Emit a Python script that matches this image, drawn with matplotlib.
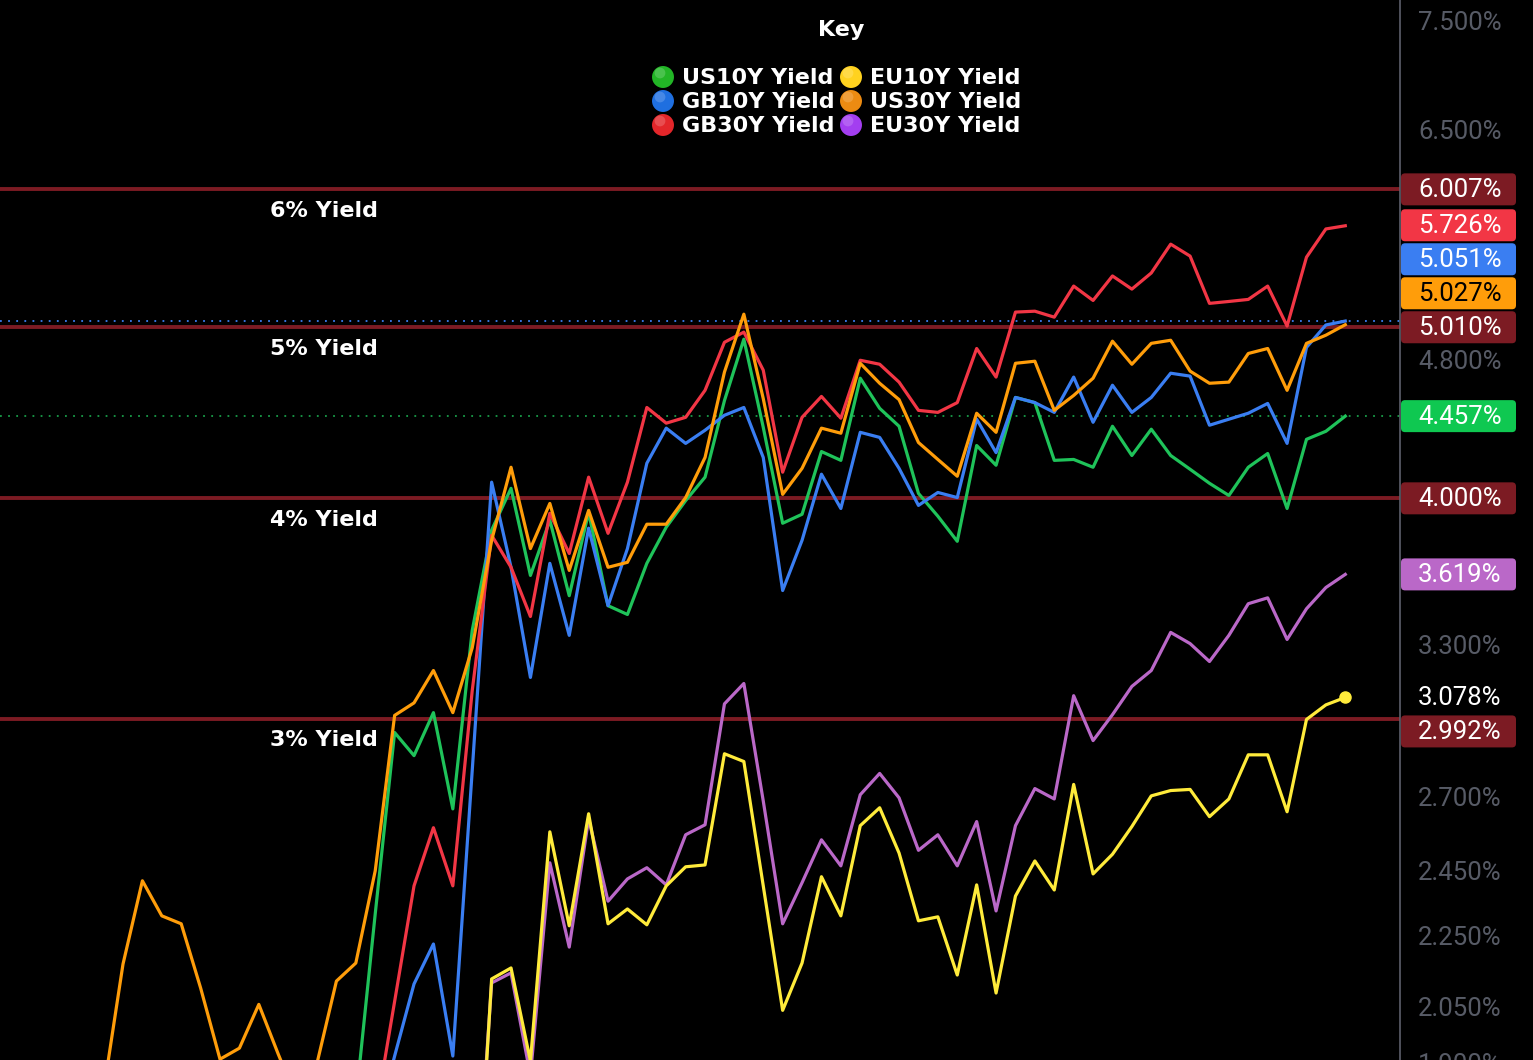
import numpy as np
import matplotlib
matplotlib.use("Agg")
import matplotlib.pyplot as plt
from matplotlib.patches import FancyBboxPatch
from matplotlib.ticker import FixedLocator, NullLocator

# weekly closes (yield in %), oldest first
N_POINTS = 65
nan = np.nan


def pad(vals):
    # series that start later than US30Y get leading gaps
    return [nan] * (N_POINTS - len(vals)) + vals


us30y = [1.834, 2.167, 2.418, 2.309, 2.285, 2.100, 1.912, 1.940, 2.055, 1.925,
         1.809, 1.902, 2.119, 2.170, 2.450, 3.006, 3.056, 3.189, 3.017, 3.286,
         3.785, 4.167, 3.744, 3.973, 3.638, 3.937, 3.653, 3.677, 3.866, 3.866,
         4.004, 4.221, 4.723, 5.097, 4.561, 4.021, 4.161, 4.387, 4.358, 4.778,
         4.654, 4.555, 4.305, 4.210, 4.118, 4.474, 4.363, 4.778, 4.791, 4.491,
         4.580, 4.685, 4.919, 4.772, 4.905, 4.925, 4.729, 4.654, 4.661, 4.840,
         4.872, 4.611, 4.905, 4.958, 5.027]

us10y = pad([1.809, 2.315, 2.939, 2.851, 3.017, 2.658, 3.362, 3.836, 4.053, 3.614,
             3.886, 3.519, 3.927, 3.473, 3.433, 3.672, 3.851, 3.988, 4.113, 4.549,
             4.932, 4.392, 3.871, 3.917, 4.254, 4.205, 4.685, 4.503, 4.398, 4.026,
             3.907, 3.780, 4.288, 4.178, 4.568, 4.537, 4.205, 4.210, 4.167, 4.398,
             4.232, 4.381, 4.232, 4.156, 4.080, 4.015, 4.167, 4.243, 3.947, 4.323,
             4.369, 4.457])

gb10y = pad([1.739, 1.920, 2.111, 2.225, 1.920, 2.796, 4.086, 3.653, 3.160, 3.672,
             3.340, 3.846, 3.473, 3.744, 4.189, 4.387, 4.300, 4.375, 4.462, 4.508,
             4.221, 3.543, 3.785, 4.129, 3.947, 4.363, 4.334, 4.161, 3.963, 4.031,
             4.004, 4.439, 4.248, 4.568, 4.537, 4.479, 4.692, 4.421, 4.642, 4.479,
             4.568, 4.716, 4.698, 4.404, 4.439, 4.474, 4.532, 4.300, 4.879, 5.025,
             5.051])

gb30y = pad([1.774, 2.063, 2.402, 2.593, 2.402, 3.106, 3.810, 3.653, 3.424, 3.922,
             3.720, 4.113, 3.820, 4.086, 4.508, 4.416, 4.450, 4.611, 4.912, 4.978,
             4.735, 4.140, 4.450, 4.574, 4.445, 4.797, 4.772, 4.661, 4.491, 4.479,
             4.537, 4.872, 4.692, 5.111, 5.117, 5.077, 5.289, 5.190, 5.360, 5.268,
             5.381, 5.589, 5.502, 5.170, 5.183, 5.197, 5.289, 5.018, 5.494, 5.702,
             5.726])

eu10y = pad([1.39, 2.125, 2.156, 1.907, 2.579, 2.279, 2.641, 2.285, 2.330, 2.282,
             2.402, 2.463, 2.469, 2.858, 2.829, 2.402, 2.039, 2.170, 2.431, 2.309,
             2.600, 2.662, 2.508, 2.294, 2.306, 2.136, 2.405, 2.086, 2.370, 2.482,
             2.389, 2.745, 2.440, 2.504, 2.597, 2.704, 2.723, 2.727, 2.631, 2.693,
             2.854, 2.854, 2.648, 2.990, 3.048, 3.078])

eu30y = pad([1.45, 2.114, 2.142, 1.871, 2.476, 2.216, 2.624, 2.354, 2.424, 2.460,
             2.405, 2.569, 2.603, 3.052, 3.135, 2.686, 2.285, 2.412, 2.552, 2.466,
             2.708, 2.785, 2.697, 2.517, 2.569, 2.466, 2.614, 2.324, 2.600, 2.730,
             2.693, 3.085, 2.908, 3.009, 3.123, 3.189, 3.353, 3.304, 3.227, 3.340,
             3.482, 3.509, 3.322, 3.459, 3.557, 3.619])

# horizontal alert levels
levels = [6.007, 5.010, 4.000, 2.992]
level_labels = ["6% Yield", "5% Yield", "4% Yield", "3% Yield"]

y_ticks = [7.5, 6.5, 4.8, 3.3, 2.7, 2.45, 2.25, 2.05]
bottom_tick = 1.9   # half cut off at the bottom edge

GREEN = "#1fc35a"
BLUE = "#3a7ef2"
RED = "#f23645"
ORANGE = "#ff9d0a"
YELLOW = "#ffeb3b"
PURPLE = "#ba68c8"
DARK_RED = "#7c1b23"
GRID_GREY = "#575b66"
SCALE_FS = 18.5

W, H = 1533, 1060
fig = plt.figure(figsize=(W / 100, H / 100), dpi=100, facecolor="black")
ax = fig.add_axes([0, 0, 1400 / W, 1])
ax.set_facecolor("black")

x = np.arange(N_POINTS)
ax.set_xlim(-5.34, 66.82)
ax.set_yscale("log")
ax.set_ylim(1.91, 7.707)

for lvl, lab in zip(levels, level_labels):
    ax.axhline(lvl, color=DARK_RED, lw=2.8, zorder=1)
    ax.annotate(lab, xy=(270 / 1400, lvl), xycoords=ax.get_yaxis_transform(),
                xytext=(0, -15.5), textcoords="offset points", color="white",
                fontsize=16, fontweight="bold", ha="left", va="center")

# last-price lines
ax.axhline(gb10y[-1], color=BLUE, lw=1.3, ls=(0, (1, 3.5)), zorder=2)
ax.axhline(us10y[-1], color=GREEN, lw=1.3, ls=(0, (1, 3.5)), alpha=0.8, zorder=2)

lw = 2.3
ax.plot(x, us10y, color=GREEN, lw=lw, zorder=3)
ax.plot(x, gb10y, color=BLUE, lw=lw, zorder=3)
ax.plot(x, gb30y, color=RED, lw=lw, zorder=3)
ax.plot(x, us30y, color=ORANGE, lw=lw, zorder=3)
ax.plot(x, eu30y, color=PURPLE, lw=lw, zorder=3)
ax.plot(x, eu10y, color=YELLOW, lw=lw, zorder=3)
ax.plot(x[-1], eu10y[-1], "o", color=YELLOW, ms=8, zorder=4)

ax.yaxis.tick_right()
ax.yaxis.set_major_locator(FixedLocator(y_ticks))
ax.yaxis.set_minor_locator(NullLocator())
ax.set_yticklabels([f"{t:.3f}%" for t in y_ticks])
ax.tick_params(axis="y", length=0, pad=13, labelsize=SCALE_FS, labelcolor=GRID_GREY)
for lbl in ax.get_yticklabels():
    lbl.set_fontfamily("Roboto")
ax.annotate(f"{bottom_tick:.3f}%", xy=(1, bottom_tick), xycoords=ax.get_yaxis_transform(),
            xytext=(13, -1), textcoords="offset points", color=GRID_GREY,
            fontsize=SCALE_FS, family="Roboto", ha="left", va="center",
            annotation_clip=False)
ax.set_xticks([])
for side in ["top", "left", "bottom"]:
    ax.spines[side].set_visible(False)
ax.spines["right"].set_color("#5d606b")
ax.spines["right"].set_linewidth(1.2)

# overlay in pixel coords for the key and price boxes
ov = fig.add_axes([0, 0, 1, 1])
ov.set_xlim(0, W)
ov.set_ylim(H, 0)
ov.axis("off")
ov.patch.set_alpha(0)

ov.text(841, 30, "Key", color="white", fontsize=16, fontweight="bold",
        ha="center", va="center")
key_cols = [
    [("US10Y Yield", "#22b526"), ("GB10Y Yield", "#1f6fe0"), ("GB30Y Yield", "#e3262a")],
    [("EU10Y Yield", "#ffd21f"), ("US30Y Yield", "#ec8b12"), ("EU30Y Yield", "#a33ef0")],
]
for cx, col in zip([663, 851], key_cols):
    for cy, (name, c) in zip([77, 101, 125], col):
        ov.scatter([cx], [cy], s=250, color=c, edgecolors="none", zorder=5)
        ov.scatter([cx - 3], [cy - 4], s=60, color="white", alpha=0.18,
                   edgecolors="none", zorder=6)
        ov.text(cx + 19, cy + 1, name, color="white", fontsize=16,
                fontweight="bold", ha="left", va="center")

# price boxes on the right scale
boxes = [
    (levels[0], DARK_RED, "white"),
    (gb30y[-1], RED, "white"),
    (gb10y[-1], BLUE, "white"),
    (us30y[-1], ORANGE, "black"),
    (levels[1], DARK_RED, "white"),
    (us10y[-1], "#0fc851", "white"),
    (levels[2], DARK_RED, "white"),
    (eu30y[-1], PURPLE, "white"),
    (eu10y[-1], None, "white"),
    (levels[3], DARK_RED, "white"),
]
boxes.sort(key=lambda b: -b[0])
BOX_H = 34
placed = []
for val, face, tc in boxes:
    placed.append([H - ax.transData.transform((0, val))[1], val, face, tc])
# upper cluster piles upward from its lowest label, lower ones push downward
upper = [p for p in placed if p[1] > 4.7]
lower = [p for p in placed if p[1] <= 4.7]
nxt = 1e9
for p in reversed(upper):
    p[0] = min(p[0], nxt - BOX_H)
    nxt = p[0]
prev = -1e9
for p in lower:
    p[0] = max(p[0], prev + BOX_H)
    prev = p[0]

for ypix, val, face, tc in placed:
    if face is not None:
        ov.add_patch(FancyBboxPatch((1401, ypix - 16), 115, 32,
                                    boxstyle="round,pad=0,rounding_size=4",
                                    fc=face, ec="none", zorder=5))
    ov.text(1418, ypix + 1, f"{val:.3f}%", color=tc, fontsize=SCALE_FS,
            family="Roboto", ha="left", va="center", zorder=6)

fig.savefig("out.png", dpi=100, facecolor="black")
